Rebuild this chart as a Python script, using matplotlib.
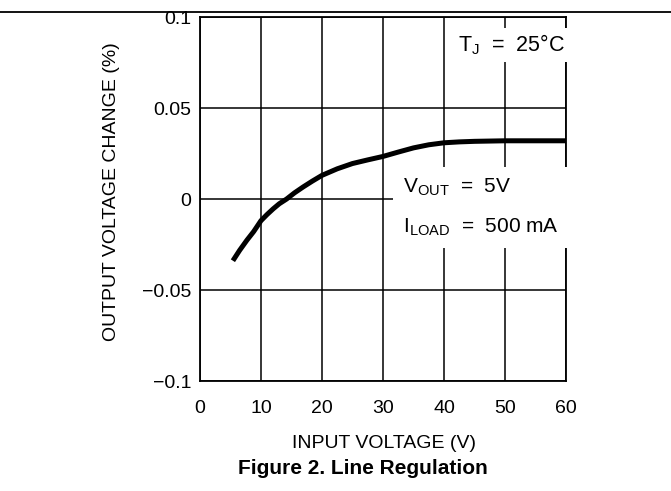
import numpy as np
import matplotlib
matplotlib.use('Agg')
import matplotlib.pyplot as plt
from matplotlib.lines import Line2D

# data
vin = [5.4, 6.5, 7.7, 8.8, 10, 11, 12, 13, 14.2, 15.5, 16.9, 18.4, 20, 22.5, 25, 27.5, 30,
       32.5, 35, 37.5, 40, 42.5, 45, 50, 55, 60]
dvout = [-0.0339, -0.0282, -0.0226, -0.0179, -0.0119, -0.0085, -0.0054, -0.0026, 0.0, 0.0034,
         0.0066, 0.0098, 0.0130, 0.0166, 0.0195, 0.0215, 0.0234, 0.0258, 0.0281, 0.0298,
         0.0309, 0.0314, 0.0317, 0.032, 0.032, 0.032]
xticks = [0, 10, 20, 30, 40, 50, 60]
yticks = [-0.1, -0.05, 0, 0.05, 0.1]
yticklabels = ['\u22120.1', '\u22120.05', '0', '0.05', '0.1']

plt.rcParams['font.family'] = ['Liberation Sans', 'DejaVu Sans']
plt.rcParams['mathtext.fontset'] = 'custom'
plt.rcParams['mathtext.rm'] = 'Liberation Sans'

fig = plt.figure(figsize=(6.71, 4.91), dpi=100)
ax = fig.add_axes([0.298, 0.224, 0.5455, 0.7413])

ax.plot(vin, dvout, color='black', lw=3.6, solid_capstyle='butt', solid_joinstyle='round', zorder=4)

ax.set_xlim(0, 60)
ax.set_ylim(-0.1, 0.1)
ax.set_xticks(xticks)
ax.set_yticks(yticks)
ax.set_yticklabels(yticklabels)
ax.grid(True, color='black', lw=1.1)
ax.set_axisbelow(True)
ax.tick_params(length=0, labelsize=14)
ax.tick_params(axis='x', pad=14)
ax.tick_params(axis='y', pad=6)
for s in ax.spines.values():
    s.set_linewidth(1.3)

fig.text(384/671, 1 - 443/491, 'INPUT VOLTAGE (V)', fontsize=14, ha='center', va='center')
fig.text(112/671, 1 - 192/491, 'OUTPUT VOLTAGE CHANGE (%)', fontsize=14, ha='center', va='center',
         rotation=90)

ax.text(42.3, 0.0846, r'T$_\mathregular{J}$  =  25°C', fontsize=15.5, va='center', ha='left',
        bbox=dict(facecolor='white', edgecolor='none', pad=3.5), zorder=3)
ax.text(33.3, -0.0045, 'V$_\\mathregular{OUT}$  =  5V\nI$_\\mathregular{LOAD}$  =  500 mA',
        fontsize=15, va='center', ha='left', linespacing=2.15,
        bbox=dict(facecolor='white', edgecolor='none', pad=7), zorder=3)

fig.add_artist(Line2D([0, 1], [1 - 12/491, 1 - 12/491], color='black', lw=1.3))
fig.text(363/671, 1 - 469/491, 'Figure 2. Line Regulation', ha='center', va='center',
         fontsize=15, fontweight='bold')

fig.savefig('out.png', dpi=100)
